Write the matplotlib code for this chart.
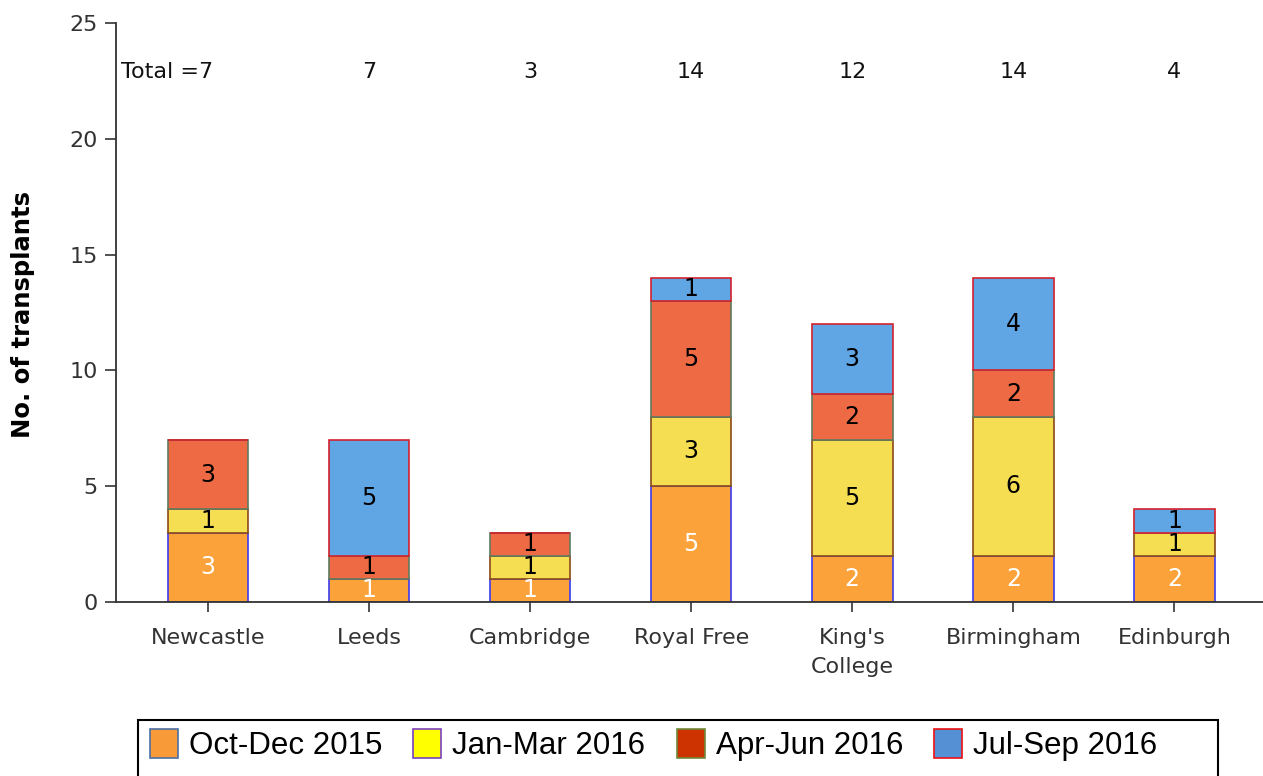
import numpy as np
import matplotlib.pyplot as plt
from matplotlib.patches import Patch, Rectangle

# centres and the number of transplants per quarter
centres = ["Newcastle", "Leeds", "Cambridge", "Royal Free", "King's\nCollege", "Birmingham", "Edinburgh"]
quarters = ["Oct-Dec 2015", "Jan-Mar 2016", "Apr-Jun 2016", "Jul-Sep 2016"]
oct_dec = [3, 1, 1, 5, 2, 2, 2]
jan_mar = [1, 0, 1, 3, 5, 6, 1]
apr_jun = [3, 1, 1, 5, 2, 2, 0]
jul_sep = [0, 5, 0, 1, 3, 4, 1]
totals = [7, 7, 3, 14, 12, 14, 4]

series = [oct_dec, jan_mar, apr_jun, jul_sep]
bar_colors = ["#fba23a", "#f5de52", "#ee6a45", "#60a5e4"]
edge_colors = ["#3b3bf0", "#8b4a1a", "#5f7a5f", "#d4202c"]
text_colors = ["white", "black", "black", "black"]
legend_colors = ["#f99a38", "#ffff00", "#cc3300", "#5590d5"]
legend_edges = ["#4a6fa5", "#7a3fc0", "#6f8a3a", "#ee1111"]

fig = plt.figure(figsize=(12.63, 7.76), dpi=100)
ax = fig.add_axes([0.0918, 0.2242, 0.9082, 0.7462])

x = np.arange(len(centres))
bottom = np.zeros(len(centres))
for vals, col, ec, tc in zip(series, bar_colors, edge_colors, text_colors):
    vals = np.array(vals)
    ax.bar(x, vals, 0.5, bottom=bottom, color=col, edgecolor=ec, linewidth=1.2, zorder=2)
    for i in range(len(x)):
        if vals[i] > 0:
            ax.text(x[i], bottom[i] + vals[i] / 2.0, str(vals[i]), ha='center', va='center',
                    color=tc, fontsize=17, family='DejaVu Sans', zorder=3)
    bottom = bottom + vals

# totals row along the top
for i in range(len(x)):
    if i == 0:
        ax.text(x[i] + 0.03, 22.9, "Total =" + str(totals[i]), ha='right', va='center',
                fontsize=16, family='DejaVu Sans', color='#111111')
    else:
        ax.text(x[i], 22.9, str(totals[i]), ha='center', va='center', fontsize=16,
                family='DejaVu Sans', color='#111111')

ax.set_xlim(-0.571, 6.55)
ax.set_ylim(0, 25)
ax.set_yticks([0, 5, 10, 15, 20, 25])
ax.set_xticks(x)
ax.set_xticklabels(centres, family='DejaVu Sans', fontsize=16, color='#333333', linespacing=1.55)
for lab in ax.get_yticklabels():
    lab.set_family('DejaVu Sans')
    lab.set_fontsize(16)
    lab.set_color('#333333')
ax.tick_params(axis='x', length=7, width=1.2, color='#333333', pad=12)
ax.tick_params(axis='y', length=8, width=1.2, color='#333333', pad=5)
ax.spines['top'].set_visible(False)
ax.spines['right'].set_visible(False)
ax.spines['left'].set_color('#333333')
ax.spines['bottom'].set_color('#333333')
ax.spines['left'].set_linewidth(1.3)
ax.spines['bottom'].set_linewidth(1.3)
ax.set_ylabel("No. of transplants", fontsize=17.5, fontweight='bold', family='DejaVu Sans')
ax.yaxis.set_label_coords(-0.0705, 0.496)

# legend box at the bottom
fig.patches.append(Rectangle((0.109, -0.02), 0.855, 0.0922, transform=fig.transFigure,
                             facecolor='white', edgecolor='black', linewidth=1.5))
handles = [Patch(facecolor=c, edgecolor=e, linewidth=1.2, label=q)
           for c, e, q in zip(legend_colors, legend_edges, quarters)]
fig.legend(handles=handles, loc='center left', bbox_to_anchor=(0.1085, 0.04), ncol=4, frameon=False,
           prop={'family': 'Liberation Sans', 'size': 22.5}, handlelength=0.9, handleheight=1.05,
           handletextpad=0.35, columnspacing=1.0, borderaxespad=0)

fig.savefig('out.png', dpi=100)
